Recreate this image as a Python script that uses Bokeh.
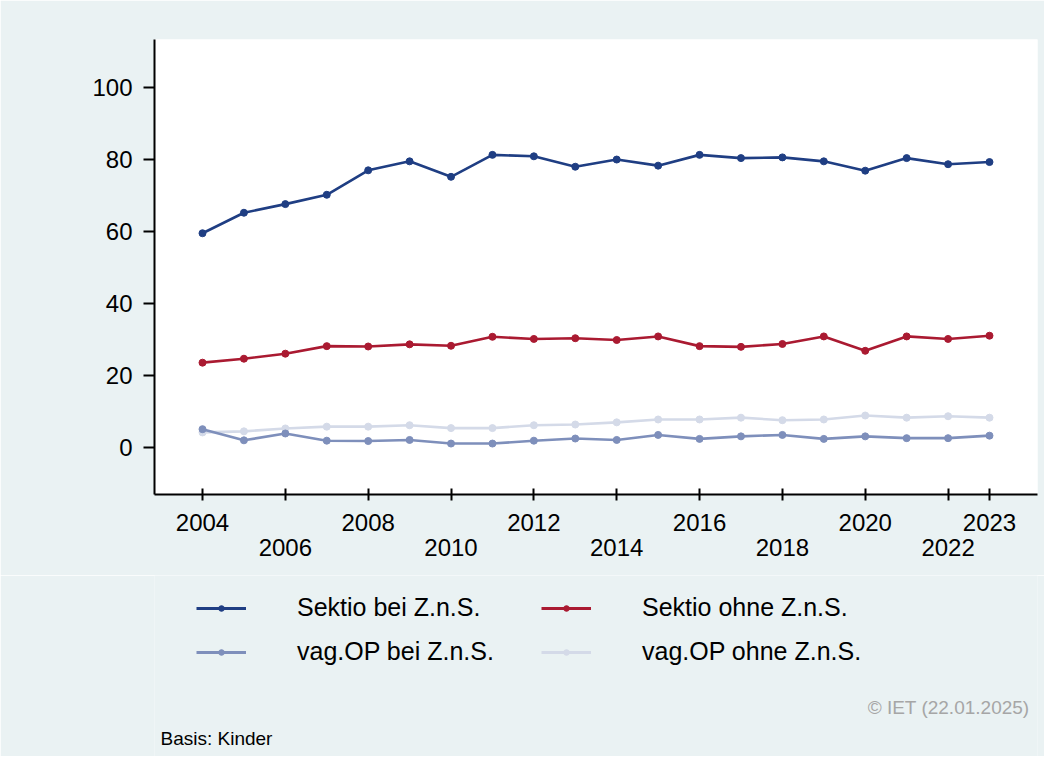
from bokeh.plotting import figure
from bokeh.models import (Range1d, FixedTicker, LinearAxis, Legend, LegendItem, Label)
from bokeh.layouts import column
from bokeh.embed import file_html
from bokeh.resources import INLINE

years = list(range(2004, 2024))
sektio_bei = [59.6, 65.3, 67.7, 70.3, 77.1, 79.6, 75.3, 81.4, 81.0, 78.1,
              80.1, 78.4, 81.4, 80.5, 80.7, 79.6, 77.0, 80.5, 78.8, 79.4]
sektio_ohne = [23.6, 24.7, 26.1, 28.2, 28.1, 28.7, 28.3, 30.8, 30.2, 30.4,
               29.9, 30.9, 28.2, 28.0, 28.8, 30.9, 26.9, 30.9, 30.2, 31.1]
vag_bei = [5.1, 2.0, 3.9, 1.9, 1.8, 2.1, 1.1, 1.1, 1.9, 2.5,
           2.1, 3.5, 2.4, 3.1, 3.5, 2.4, 3.1, 2.6, 2.6, 3.3]
vag_ohne = [4.2, 4.5, 5.3, 5.8, 5.8, 6.2, 5.4, 5.4, 6.2, 6.4,
            7.0, 7.8, 7.8, 8.3, 7.6, 7.8, 8.9, 8.3, 8.7, 8.3]

series_names = ["Sektio bei Z.n.S.", "Sektio ohne Z.n.S.",
                "vag.OP bei Z.n.S.", "vag.OP ohne Z.n.S."]
series_values = [sektio_bei, sektio_ohne, vag_bei, vag_ohne]
series_colors = ["#1F3E83", "#AA1A31", "#7E8FBB", "#D4DAE8"]

y_ticks = [0, 20, 40, 60, 80, 100]
grid_ticks = [0, 20, 40, 60, 80]
x_ticks_top = [2004, 2008, 2012, 2016, 2020, 2023]
x_ticks_bottom = [2006, 2010, 2014, 2018, 2022]

note_text = "Basis: Kinder"
credit_text = "\u00a9 IET (22.01.2025)"

BG = "#EAF2F3"
FONT = "Liberation Sans"
W = 1044
H1 = 575
H2 = 181
LEFT = 154
RIGHT = 7

p = figure(width=W, height=H1, output_backend="svg", toolbar_location=None,
           x_range=Range1d(2002.841, 2024.159), y_range=Range1d(-13.07, 113.49),
           min_border_left=LEFT, min_border_right=RIGHT, min_border_top=39,
           min_border_bottom=H1 - 494, x_axis_type=None, y_axis_type=None)
p.border_fill_color = BG
p.background_fill_color = "white"
p.outline_line_color = None

# y axis
yax = LinearAxis(ticker=FixedTicker(ticks=y_ticks))
yax.axis_line_color = "black"
yax.axis_line_width = 2
yax.major_tick_line_color = "black"
yax.major_tick_line_width = 2
yax.major_tick_in = 0
yax.major_tick_out = 11
yax.minor_tick_line_color = None
yax.major_label_standoff = 11
yax.major_label_text_font = FONT
yax.major_label_text_font_size = "24px"
yax.major_label_text_color = "black"
p.add_layout(yax, "left")

# x axis (top row of labels + all ticks)
all_x_ticks = sorted(x_ticks_top + x_ticks_bottom)
xax = LinearAxis(ticker=FixedTicker(ticks=all_x_ticks))
xax.major_label_overrides = {t: "" for t in x_ticks_bottom}
xax.axis_line_color = "black"
xax.axis_line_width = 2
xax.major_tick_line_color = "black"
xax.major_tick_line_width = 2
xax.major_tick_in = 6
xax.major_tick_out = 6
xax.minor_tick_line_color = None
xax.major_label_standoff = 13
xax.major_label_text_font = FONT
xax.major_label_text_font_size = "24px"
xax.major_label_text_color = "black"
p.add_layout(xax, "below")

# second row of alternating labels
xax2 = LinearAxis(ticker=FixedTicker(ticks=x_ticks_bottom))
xax2.axis_line_color = None
xax2.major_tick_line_color = None
xax2.minor_tick_line_color = None
xax2.major_tick_in = 0
xax2.major_tick_out = 0
xax2.major_label_standoff = 5
xax2.major_label_text_font = FONT
xax2.major_label_text_font_size = "24px"
xax2.major_label_text_color = "black"
p.add_layout(xax2, "below")

# grid
p.ygrid.ticker = FixedTicker(ticks=grid_ticks)
p.ygrid.grid_line_color = BG
p.ygrid.grid_line_width = 2
p.xgrid.grid_line_color = None

# draw series (last series first so the dark ones are on top)
for vals, col in reversed(list(zip(series_values, series_colors))):
    p.line(years, vals, line_color=col, line_width=2.6)
    p.scatter(years, vals, size=7, fill_color=col, line_color=col)

# second figure: legend and notes (same side borders as the chart)
p2 = figure(width=W, height=H2, output_backend="svg", toolbar_location=None,
            x_range=Range1d(LEFT, W - RIGHT), y_range=Range1d(0, H2),
            min_border_left=LEFT, min_border_right=RIGHT,
            min_border_top=0, min_border_bottom=0,
            x_axis_type=None, y_axis_type=None)
p2.border_fill_color = BG
p2.background_fill_color = BG
p2.outline_line_color = None
p2.xgrid.grid_line_color = None
p2.ygrid.grid_line_color = None

# legend proxies: the series values placed far outside this panel's ranges
legend_renderers = []
for name, vals, col in zip(series_names, series_values, series_colors):
    off_x = [-10000 + i for i in range(len(vals))]
    off_y = [-10000 + v for v in vals]
    ln = p2.line(x=off_x, y=off_y, line_color=col, line_width=3)
    sc = p2.scatter(x=off_x, y=off_y, size=7, fill_color=col, line_color=col)
    legend_renderers.append((name, ln, sc))


def make_legend(idx, x):
    its = [LegendItem(label=legend_renderers[i][0],
                      renderers=[legend_renderers[i][1], legend_renderers[i][2]])
           for i in idx]
    lg = Legend(items=its, location=(x, 90))
    lg.glyph_width = 50
    lg.glyph_height = 14
    lg.label_height = 24
    lg.label_standoff = 51
    lg.spacing = 15
    lg.padding = 0
    lg.margin = 0
    lg.border_line_color = None
    lg.background_fill_alpha = 0
    lg.label_text_font = FONT
    lg.label_text_font_size = "25px"
    lg.label_text_color = "black"
    lg.label_text_baseline = "middle"
    p2.add_layout(lg, "center")


make_legend([0, 2], 196 - LEFT)
make_legend([1, 3], 541 - LEFT)

p2.add_layout(Label(x=1029, y=H2 - 132, text=credit_text, text_align="right",
                    text_baseline="middle", text_font=FONT,
                    text_font_size="19px", text_color="#A6A6A6"))
p2.add_layout(Label(x=160, y=H2 - 163, text=note_text, text_align="left",
                    text_baseline="middle", text_font=FONT,
                    text_font_size="19px", text_color="black"))

layout = column(p, p2, spacing=0)
open("out.html", "w").write(file_html(layout, INLINE))
